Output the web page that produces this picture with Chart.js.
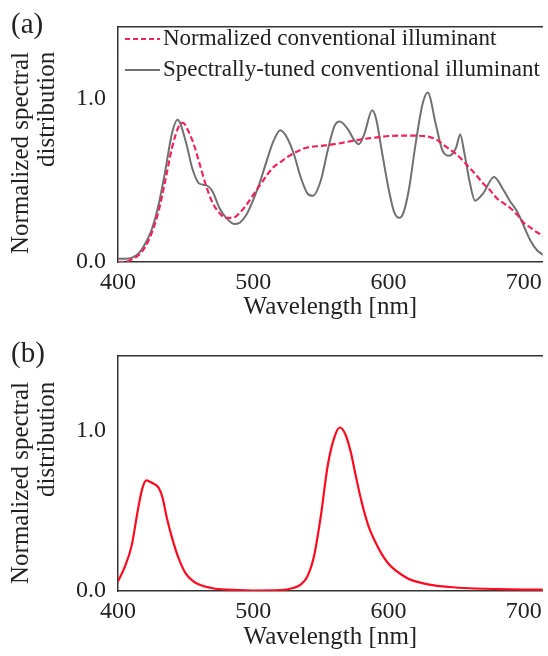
<!DOCTYPE html>
<html>
<head>
<meta charset="utf-8">
<script src="https://cdn.jsdelivr.net/npm/chart.js@4.4.1/dist/chart.umd.min.js"></script>
<style>
  body { margin: 0; background: #fff; }
  #wrap { position: relative; width: 548px; height: 656px; overflow: hidden;
          font-family: "Liberation Serif", "Times New Roman", serif; color: #222; }
  canvas { position: absolute; left: 0; }
  .tag { position: absolute; left: 11px; font-size: 29px; line-height: 32px; }
  .ytitle { position: absolute; left: 7px; width: 52px; height: 215px;
            writing-mode: vertical-rl; transform: rotate(180deg);
            font-size: 25px; line-height: 26px; text-align: end; white-space: nowrap; }
  .leg { position: absolute; left: 124px; font-size: 23px; line-height: 26px; white-space: nowrap; }
  .leg svg { vertical-align: middle; margin-right: 2px; position: relative; top: -1px; }
</style>
</head>
<body>
<div id="wrap">
  <canvas id="chartA" width="548" height="329" style="top:0"></canvas>
  <canvas id="chartB" width="548" height="327" style="top:329px"></canvas>
  <div class="tag" style="top:7px">(a)</div>
  <div class="tag" style="top:336px">(b)</div>
  <div class="ytitle" style="top:52px">Normalized spectral<br>distribution</div>
  <div class="ytitle" style="top:382px">Normalized spectral<br>distribution</div>
  <div id="legendA"></div>
</div>
<script>
// wavelength ticks / value ticks
const xTicks = [400, 500, 600, 700];
const yTicks = [0, 1.0];

// (a) normalized conventional illuminant (red dashed)
const convWl = [400, 405, 410, 415, 420, 425, 430, 435, 440, 445, 448, 452, 456, 460, 465, 470, 475, 480, 485, 490,
  495, 500, 505, 510, 515, 520, 525, 530, 535, 540, 550, 560, 570, 580, 590, 600, 610, 620, 630, 635,
  640, 645, 650, 655, 660, 665, 670, 675, 680, 685, 690, 695, 700, 705, 710, 716];
const convVals = [0.0, 0.0, 0.015, 0.04, 0.09, 0.18, 0.31, 0.50, 0.70, 0.83, 0.85, 0.80, 0.72, 0.61, 0.47, 0.36, 0.30, 0.27, 0.27, 0.30,
  0.35, 0.41, 0.47, 0.53, 0.58, 0.61, 0.64, 0.665, 0.685, 0.70, 0.71, 0.72, 0.735, 0.75, 0.76, 0.77, 0.772, 0.772, 0.765, 0.75,
  0.72, 0.69, 0.66, 0.62, 0.575, 0.53, 0.48, 0.44, 0.39, 0.36, 0.33, 0.29, 0.24, 0.21, 0.18, 0.155];

// (a) spectrally-tuned conventional illuminant (grey)
const tunedWl = [400, 405, 410, 415, 420, 425, 430, 435, 440, 444, 450, 455, 460, 465, 470, 475, 480, 486, 490, 495,
  500, 505, 510, 515, 520, 525, 530, 535, 540, 544, 550, 555, 560, 564, 570, 575, 578, 582, 588, 591,
  595, 600, 604, 608, 611, 615, 620, 625, 629, 635, 640, 645, 650, 653, 656, 660, 664, 670, 678, 685,
  690, 695, 700, 705, 710, 716];
const tunedVals = [0.02, 0.02, 0.025, 0.05, 0.11, 0.20, 0.35, 0.56, 0.79, 0.87, 0.74, 0.57, 0.48, 0.47, 0.43, 0.33, 0.27, 0.232, 0.24, 0.29,
  0.38, 0.49, 0.62, 0.74, 0.805, 0.76, 0.66, 0.52, 0.42, 0.405, 0.50, 0.68, 0.83, 0.858, 0.81, 0.74, 0.72, 0.78, 0.927, 0.87,
  0.68, 0.45, 0.31, 0.27, 0.30, 0.44, 0.72, 0.96, 1.036, 0.84, 0.68, 0.65, 0.70, 0.78, 0.67, 0.49, 0.375, 0.42, 0.52, 0.44,
  0.37, 0.31, 0.22, 0.13, 0.07, 0.035];

// (b) spectrum (red solid)
const bWl = [400, 405, 410, 415, 418, 421, 425, 430, 433, 436, 440, 445, 450, 455, 460, 470, 480, 500, 520, 530,
  535, 540, 545, 550, 555, 560, 564, 568, 572, 576, 580, 585, 590, 595, 600, 605, 610, 615, 620, 630,
  645, 660, 680, 700, 716];
const bVals = [0.06, 0.15, 0.28, 0.52, 0.64, 0.69, 0.675, 0.645, 0.58, 0.46, 0.33, 0.20, 0.11, 0.065, 0.04, 0.017, 0.008, 0.003, 0.005, 0.02,
  0.04, 0.09, 0.22, 0.47, 0.78, 0.96, 1.02, 0.98, 0.87, 0.71, 0.56, 0.41, 0.31, 0.23, 0.17, 0.13, 0.10, 0.075, 0.06, 0.04,
  0.025, 0.017, 0.012, 0.009, 0.008];

const toPoints = (xs, ys) => xs.map((x, i) => ({ x: x, y: ys[i] }));

const axisColor = '#333';
const fontFam = '"Liberation Serif", "Times New Roman", serif';

function makeOptions(yMax, xHeight, topPad, titlePadBottom) {
  return {
    responsive: false,
    animation: false,
    devicePixelRatio: 1,
    layout: { padding: { top: topPad, left: 0, right: 0, bottom: 0 } },
    plugins: { legend: { display: false }, tooltip: { enabled: false } },
    elements: { point: { radius: 0 } },
    scales: {
      x: {
        type: 'linear', min: 400, max: 714,
        grid: { display: false, drawTicks: false },
        border: { color: axisColor, width: 1.5 },
        afterBuildTicks: s => { s.ticks = xTicks.map(v => ({ value: v })); },
        afterFit: s => { s.height = xHeight; },
        ticks: { color: '#222', padding: 6, maxRotation: 0, font: { family: fontFam, size: 24 } },
        title: { display: true, text: 'Wavelength [nm]', color: '#222',
                 padding: { top: 0, bottom: titlePadBottom }, font: { family: fontFam, size: 25 } }
      },
      xTop: {
        type: 'linear', position: 'top', min: 400, max: 714,
        grid: { display: false, drawTicks: false },
        border: { color: axisColor, width: 1.5 },
        ticks: { display: false },
        afterFit: s => { s.height = 0; }
      },
      y: {
        min: 0, max: yMax,
        grid: { display: false, drawTicks: false },
        border: { color: axisColor, width: 1.5 },
        afterBuildTicks: s => { s.ticks = yTicks.map(v => ({ value: v })); },
        afterFit: s => { s.width = 118; },
        ticks: { color: '#222', padding: 12, font: { family: fontFam, size: 24 },
                 callback: v => v.toFixed(1) }
      }
    }
  };
}

const chartA = new Chart(document.getElementById('chartA'), {
  type: 'line',
  data: {
    datasets: [
      {
        label: 'Normalized conventional illuminant',
        data: toPoints(convWl, convVals),
        borderColor: '#f0245a',
        borderWidth: 2.2,
        borderDash: [6, 3],
        cubicInterpolationMode: 'monotone',
        order: 1
      },
      {
        label: 'Spectrally-tuned conventional illuminant',
        data: toPoints(tunedWl, tunedVals),
        borderColor: '#707070',
        borderWidth: 2,
        cubicInterpolationMode: 'monotone',
        order: 2
      }
    ]
  },
  options: makeOptions(1.44, 67, 14, 7)
});

new Chart(document.getElementById('chartB'), {
  type: 'line',
  data: {
    datasets: [
      {
        label: 'Spectrum',
        data: toPoints(bWl, bVals),
        borderColor: '#ff0a1e',
        borderWidth: 2.2,
        cubicInterpolationMode: 'monotone'
      }
    ]
  },
  options: makeOptions(1.47, 65, 15, 4)
});

// legend for panel (a), built from the chart datasets
const legendTops = [25, 56];
chartA.data.datasets.forEach((ds, i) => {
  const row = document.createElement('div');
  row.className = 'leg';
  row.style.top = legendTops[i] + 'px';
  const dash = ds.borderDash ? 'stroke-dasharray="5 3"' : '';
  row.innerHTML = '<svg width="37" height="6"><line x1="1" y1="3" x2="36" y2="3" stroke="' + ds.borderColor +
    '" stroke-width="' + ds.borderWidth + '" ' + dash + '/></svg>' + ds.label;
  document.getElementById('legendA').appendChild(row);
});
</script>
</body>
</html>
